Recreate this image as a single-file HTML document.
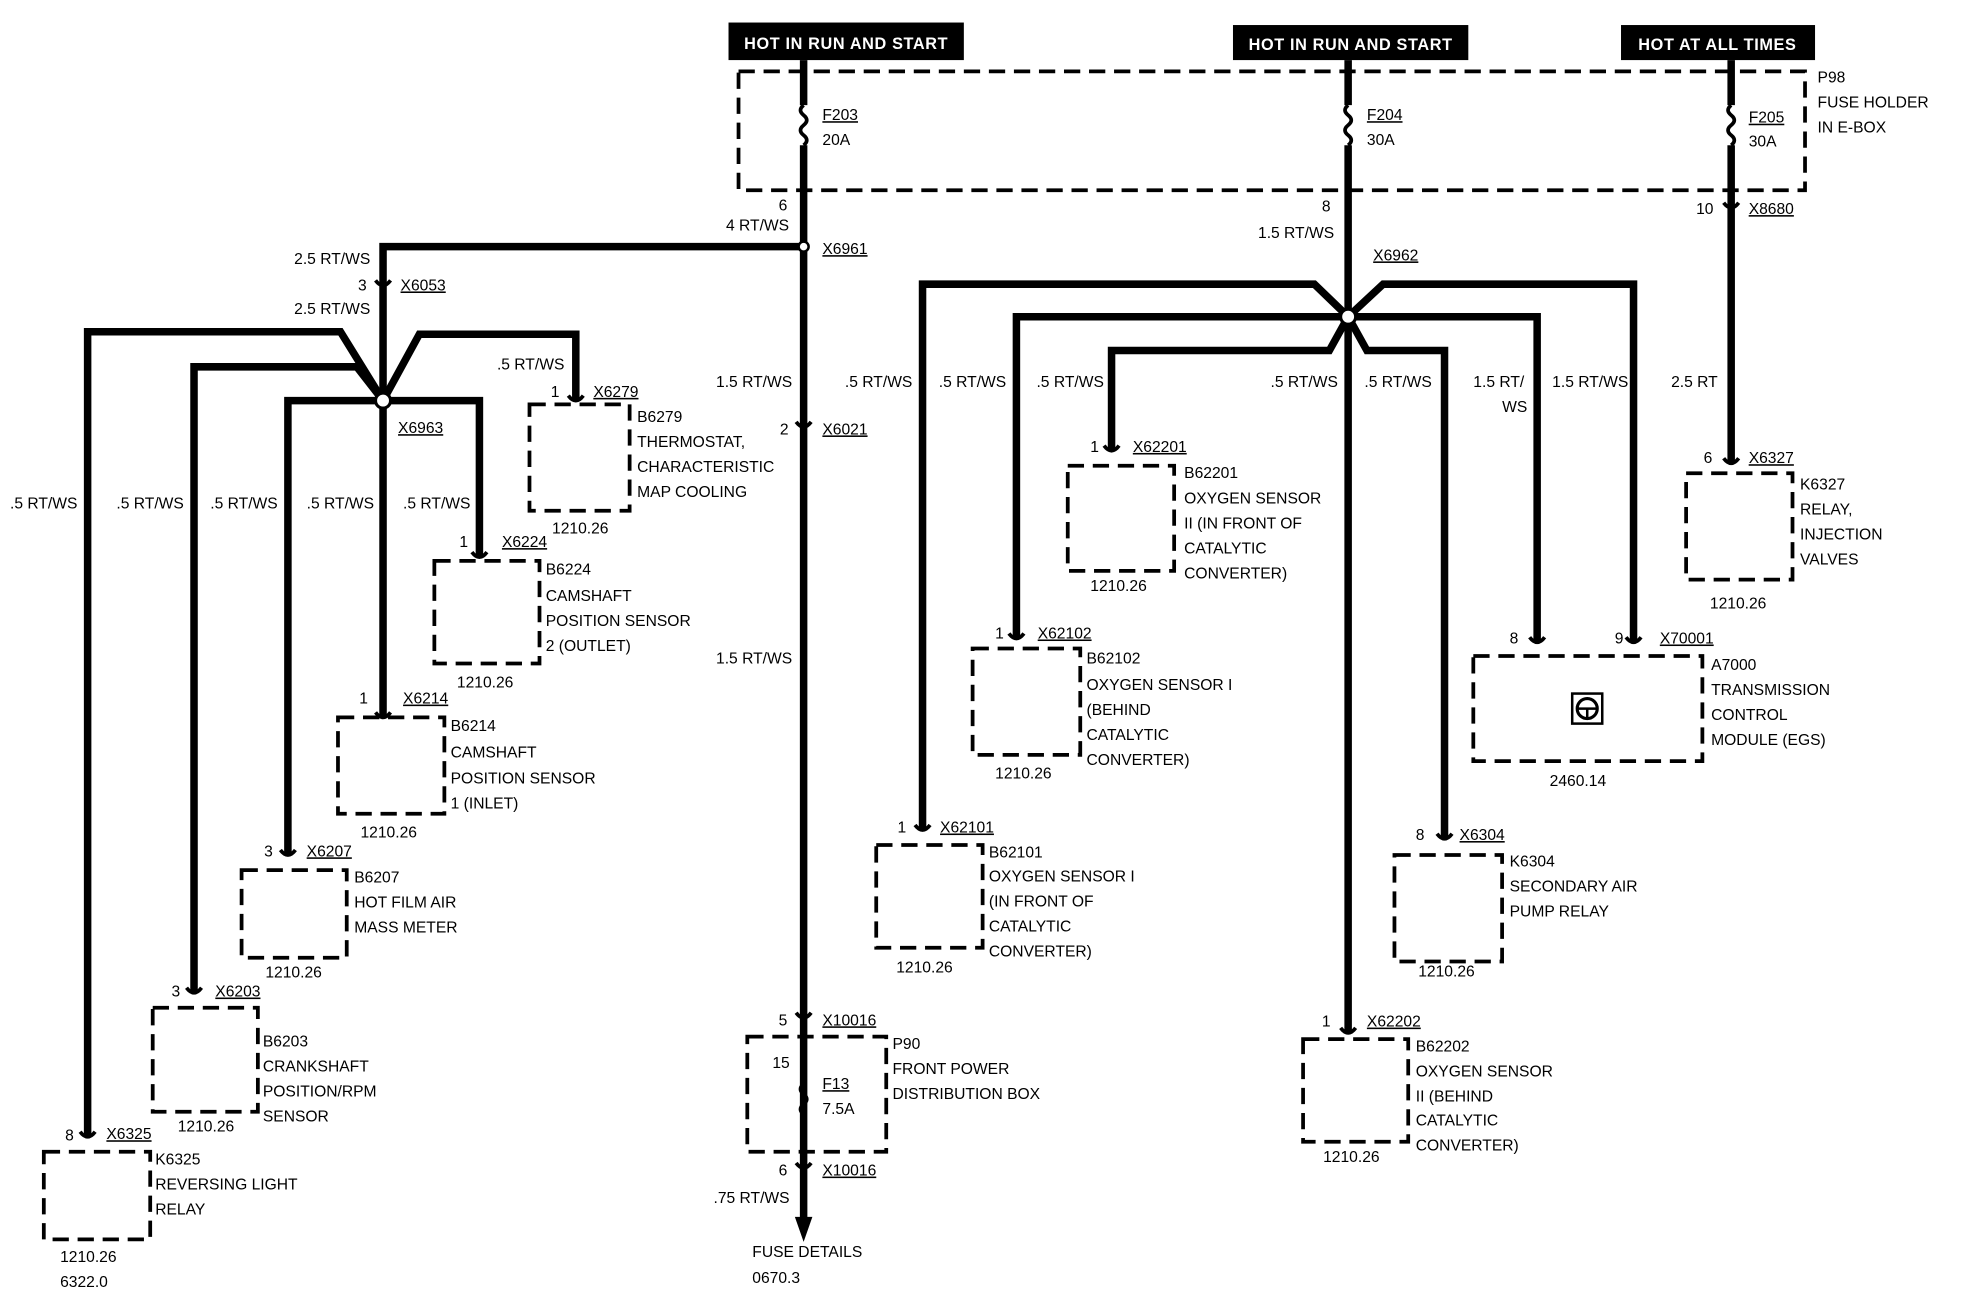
<!DOCTYPE html>
<html><head><meta charset="utf-8"><style>
html,body{margin:0;padding:0;background:#fff;}
svg{display:block}
text{font-family:"Liberation Sans",Arial,sans-serif;font-size:12.5px;fill:#000;}
.w{stroke:#000;stroke-width:6;fill:none;stroke-linejoin:miter}
.b{stroke:#000;stroke-width:3;fill:none;stroke-dasharray:13 7}
.c{stroke:#000;stroke-width:3;fill:none}
.u{text-decoration:underline}
.h{fill:#fff;font-weight:bold;font-size:13px;letter-spacing:0.5px}
</style></head><body>
<svg width="1964" height="1312" viewBox="0 0 1569 1048" preserveAspectRatio="none" xmlns="http://www.w3.org/2000/svg">
<rect x="0" y="0" width="1569" height="1048" fill="#fff"/>
<!-- headers -->
<rect x="582" y="18" width="188" height="30" fill="#000"/>
<text x="676" y="39" class="h" text-anchor="middle">HOT IN RUN AND START</text>
<rect x="985" y="20" width="188" height="28" fill="#000"/>
<text x="1079" y="40" class="h" text-anchor="middle">HOT IN RUN AND START</text>
<rect x="1295" y="20" width="155" height="28" fill="#000"/>
<text x="1372" y="40" class="h" text-anchor="middle">HOT AT ALL TIMES</text>
<!-- fuse holder -->
<rect x="590" y="57" width="852" height="95" class="b"/>
<text x="1452" y="66">P98</text><text x="1452" y="86">FUSE HOLDER</text><text x="1452" y="106">IN E-BOX</text>
<!-- fuses -->
<path class="w" d="M642 48V84M642 116V975M1077 48V84M1077 116V825M1383 48V84M1383 116V370"/>
<path class="c" stroke-width="2" d="M642 84q-5 4 0 8q5 4 0 8q-5 4 0 8q5 4 0 8M1077 84q-5 4 0 8q5 4 0 8q-5 4 0 8q5 4 0 8M1383 84q-5 4 0 8q5 4 0 8q-5 4 0 8q5 4 0 8"/>
<text x="657" y="96" class="u">F203</text><text x="657" y="116">20A</text>
<text x="1092" y="96" class="u">F204</text><text x="1092" y="116">30A</text>
<text x="1397" y="98" class="u">F205</text><text x="1397" y="117">30A</text>
<polygon points="635,972 649,972 642,992" fill="#000"/>
<!-- left wiring -->
<path class="w" d="M642 197H306V320"/>
<path class="w" d="M306 320L272 265H70V908M306 320L285 293H155V793M306 320H230V683M306 320V573M306 320H383V445M306 320L335 267H460V320"/>
<circle cx="642" cy="197" r="4" fill="#fff" stroke="#000" stroke-width="2"/>
<circle cx="306" cy="320" r="6" fill="#fff" stroke="#000" stroke-width="2.5"/>
<!-- right wiring -->
<path class="w" d="M1077 253L1050 227H737V663M1077 253H812V510M1077 253L1062 280H888V360M1077 253L1092 280H1154V670M1077 253H1228V513M1077 253L1105 227H1305V513"/>
<circle cx="1077" cy="253" r="6" fill="#fff" stroke="#000" stroke-width="2.5"/>
<!-- connector forks -->
<path class="c" d="M300 224q6 8 12 0M636 337q6 8 12 0M636 809q6 8 12 0M636 929q6 8 12 0M1377 162q6 8 12 0M64 904q6 8 12 0M149 789q6 8 12 0M224 679q6 8 12 0M300 569q6 8 12 0M377 441q6 8 12 0M454 316q6 8 12 0M731 659q6 8 12 0M806 506q6 8 12 0M882 356q6 8 12 0M1071 821q6 8 12 0M1148 666q6 8 12 0M1222 509q6 8 12 0M1299 509q6 8 12 0M1377 366q6 8 12 0"/>
<!-- boxes -->
<rect x="35" y="920" width="85" height="70" class="b"/>
<rect x="122" y="805" width="84" height="83" class="b"/>
<rect x="193" y="695" width="84" height="70" class="b"/>
<rect x="270" y="573" width="85" height="77" class="b"/>
<rect x="347" y="448" width="84" height="82" class="b"/>
<rect x="423" y="323" width="80" height="85" class="b"/>
<rect x="597" y="828" width="111" height="92" class="b"/>
<rect x="700" y="675" width="85" height="82" class="b"/>
<rect x="777" y="518" width="86" height="85" class="b"/>
<rect x="853" y="372" width="85" height="84" class="b"/>
<rect x="1041" y="830" width="84" height="82" class="b"/>
<rect x="1114" y="683" width="86" height="85" class="b"/>
<rect x="1177" y="524" width="183" height="84" class="b"/>
<rect x="1347" y="378" width="85" height="85" class="b"/>
<!-- P90 fuse -->
<path class="c" stroke-width="2" d="M642 866q-5 4 0 8q5 4 0 8q-5 4 0 8"/>
<!-- EGS icon -->
<rect x="1256" y="554" width="24" height="24" fill="none" stroke="#000" stroke-width="2"/>
<circle cx="1268" cy="566" r="8" fill="none" stroke="#000" stroke-width="2.5"/>
<path d="M1260 566h16M1268 566v8" stroke="#000" stroke-width="2"/>
<!-- wire labels -->
<text x="622" y="168">6</text><text x="580" y="184">4 RT/WS</text>
<text x="657" y="203" class="u">X6961</text>
<text x="235" y="211">2.5 RT/WS</text>
<text x="286" y="232">3</text><text x="320" y="232" class="u">X6053</text>
<text x="235" y="251">2.5 RT/WS</text>
<text x="318" y="346" class="u">X6963</text>
<text x="8" y="406">.5 RT/WS</text><text x="93" y="406">.5 RT/WS</text><text x="168" y="406">.5 RT/WS</text><text x="245" y="406">.5 RT/WS</text><text x="322" y="406">.5 RT/WS</text>
<text x="397" y="295">.5 RT/WS</text>
<text x="572" y="309">1.5 RT/WS</text>
<text x="623" y="347">2</text><text x="657" y="347" class="u">X6021</text>
<text x="572" y="530">1.5 RT/WS</text>
<text x="622" y="819">5</text><text x="657" y="819" class="u">X10016</text>
<text x="617" y="853">15</text><text x="657" y="870" class="u">F13</text><text x="657" y="890">7.5A</text>
<text x="713" y="838">P90</text><text x="713" y="858">FRONT POWER</text><text x="713" y="878">DISTRIBUTION BOX</text>
<text x="622" y="939">6</text><text x="657" y="939" class="u">X10016</text>
<text x="570" y="961">.75 RT/WS</text>
<text x="601" y="1004">FUSE DETAILS</text><text x="601" y="1025">0670.3</text>
<text x="1056" y="169">8</text><text x="1005" y="190">1.5 RT/WS</text>
<text x="1097" y="208" class="u">X6962</text>
<text x="675" y="309">.5 RT/WS</text><text x="750" y="309">.5 RT/WS</text><text x="828" y="309">.5 RT/WS</text><text x="1015" y="309">.5 RT/WS</text><text x="1090" y="309">.5 RT/WS</text>
<text x="1177" y="309">1.5 RT/</text><text x="1200" y="329">WS</text><text x="1240" y="309">1.5 RT/WS</text>
<text x="1355" y="171">10</text><text x="1397" y="171" class="u">X8680</text>
<text x="1335" y="309">2.5 RT</text>
<!-- component labels -->
<text x="52" y="911">8</text><text x="85" y="910" class="u">X6325</text>
<text x="124" y="930">K6325</text><text x="124" y="950">REVERSING LIGHT</text><text x="124" y="970">RELAY</text>
<text x="48" y="1008">1210.26</text><text x="48" y="1028">6322.0</text>
<text x="137" y="796">3</text><text x="172" y="796" class="u">X6203</text>
<text x="210" y="836">B6203</text><text x="210" y="856">CRANKSHAFT</text><text x="210" y="876">POSITION/RPM</text><text x="210" y="896">SENSOR</text>
<text x="142" y="904">1210.26</text>
<text x="211" y="684">3</text><text x="245" y="684" class="u">X6207</text>
<text x="283" y="705">B6207</text><text x="283" y="725">HOT FILM AIR</text><text x="283" y="745">MASS METER</text>
<text x="212" y="781">1210.26</text>
<text x="287" y="562">1</text><text x="322" y="562" class="u">X6214</text>
<text x="360" y="584">B6214</text><text x="360" y="605">CAMSHAFT</text><text x="360" y="626">POSITION SENSOR</text><text x="360" y="646">1 (INLET)</text>
<text x="288" y="669">1210.26</text>
<text x="367" y="437">1</text><text x="401" y="437" class="u">X6224</text>
<text x="436" y="459">B6224</text><text x="436" y="480">CAMSHAFT</text><text x="436" y="500">POSITION SENSOR</text><text x="436" y="520">2 (OUTLET)</text>
<text x="365" y="549">1210.26</text>
<text x="440" y="317">1</text><text x="474" y="317" class="u">X6279</text>
<text x="509" y="337">B6279</text><text x="509" y="357">THERMOSTAT,</text><text x="509" y="377">CHARACTERISTIC</text><text x="509" y="397">MAP COOLING</text>
<text x="441" y="426">1210.26</text>
<text x="717" y="665">1</text><text x="751" y="665" class="u">X62101</text>
<text x="790" y="685">B62101</text><text x="790" y="704">OXYGEN SENSOR I</text><text x="790" y="724">(IN FRONT OF</text><text x="790" y="744">CATALYTIC</text><text x="790" y="764">CONVERTER)</text>
<text x="716" y="777">1210.26</text>
<text x="795" y="510">1</text><text x="829" y="510" class="u">X62102</text>
<text x="868" y="530">B62102</text><text x="868" y="551">OXYGEN SENSOR I</text><text x="868" y="571">(BEHIND</text><text x="868" y="591">CATALYTIC</text><text x="868" y="611">CONVERTER)</text>
<text x="795" y="622">1210.26</text>
<text x="871" y="361">1</text><text x="905" y="361" class="u">X62201</text>
<text x="946" y="382">B62201</text><text x="946" y="402">OXYGEN SENSOR</text><text x="946" y="422">II (IN FRONT OF</text><text x="946" y="442">CATALYTIC</text><text x="946" y="462">CONVERTER)</text>
<text x="871" y="472">1210.26</text>
<text x="1056" y="820">1</text><text x="1092" y="820" class="u">X62202</text>
<text x="1131" y="840">B62202</text><text x="1131" y="860">OXYGEN SENSOR</text><text x="1131" y="880">II (BEHIND</text><text x="1131" y="899">CATALYTIC</text><text x="1131" y="919">CONVERTER)</text>
<text x="1057" y="928">1210.26</text>
<text x="1131" y="671">8</text><text x="1166" y="671" class="u">X6304</text>
<text x="1206" y="692">K6304</text><text x="1206" y="712">SECONDARY AIR</text><text x="1206" y="732">PUMP RELAY</text>
<text x="1133" y="780">1210.26</text>
<text x="1206" y="514">8</text><text x="1290" y="514">9</text><text x="1326" y="514" class="u">X70001</text>
<text x="1367" y="535">A7000</text><text x="1367" y="555">TRANSMISSION</text><text x="1367" y="575">CONTROL</text><text x="1367" y="595">MODULE (EGS)</text>
<text x="1238" y="628">2460.14</text>
<text x="1361" y="370">6</text><text x="1397" y="370" class="u">X6327</text>
<text x="1438" y="391">K6327</text><text x="1438" y="411">RELAY,</text><text x="1438" y="431">INJECTION</text><text x="1438" y="451">VALVES</text>
<text x="1366" y="486">1210.26</text>
</svg>
</body></html>
